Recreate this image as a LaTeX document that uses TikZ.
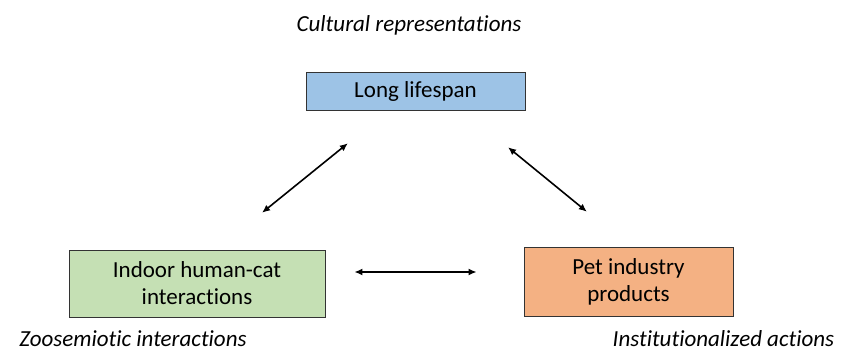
\documentclass[tikz,border=0pt]{standalone}
\usepackage{fontspec}
\setmainfont{Carlito}[Ligatures=NoCommon]
\usepackage{xcolor}
\usepackage{tikz}
\usetikzlibrary{arrows.meta}
\definecolor{lifeblue}{HTML}{9DC3E6}
\definecolor{indoorgreen}{HTML}{C5E0B4}
\definecolor{petorange}{HTML}{F4B183}

\begin{document}
\begin{tikzpicture}[x=1pt,y=1pt,
  every node/.style={font=\fontsize{23}{27}\selectfont},
  box/.style={draw=black!80, line width=0.8pt, align=center, inner sep=0pt},
  tag/.style={anchor=base, inner sep=0pt, font=\fontsize{23}{27}\selectfont\itshape},
  link/.style={{Latex[length=8pt,width=7pt]}-{Latex[length=8pt,width=7pt]}, line width=1.6pt}]
\useasboundingbox (0,0) rectangle (841,352);

\node[box, fill=lifeblue, minimum width=219pt, minimum height=38pt] (life) at (415.5,261) {Long lifespan};
\node[box, fill=indoorgreen, minimum width=256pt, minimum height=67pt] (indoor) at (197,68.5) {Indoor human-cat\\interactions};
\node[box, fill=petorange, minimum width=209pt, minimum height=69pt] (pet) at (628.5,70.5) {Pet industry\\products};

\node[tag] (cultural) at (409,320) {Cultural representations};
\node[tag] (zoo) at (133,5) {Zoosemiotic interactions};
\node[tag] (inst) at (723.5,5) {Institutionalized actions};

\draw[link, shorten <=58.6pt, shorten >=52.3pt] ([xshift=19.5pt]indoor.north) -- ([xshift=-27pt]life.south);
\draw[link, shorten <=58.2pt, shorten >=55.1pt] ([xshift=47.5pt]life.south) -- ([xshift=1pt]pet.north);
\draw[link, shorten <=29pt, shorten >=47pt] ([yshift=11.5pt]indoor.east) -- ([yshift=9.5pt]pet.west);
\end{tikzpicture}
\end{document}
